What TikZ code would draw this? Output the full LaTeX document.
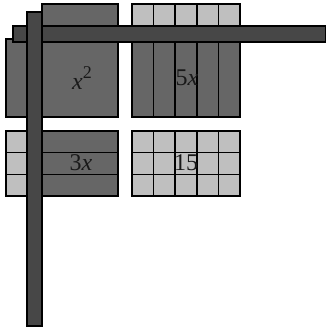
\documentclass[tikz,border=0pt]{standalone}
\usepackage{fontspec}
\setmainfont{Liberation Serif}
\begin{document}
\begin{tikzpicture}[x=1pt,y=-1pt,
  darktile/.style={draw=black,line width=1.6pt,fill=black!60},
  lighttile/.style={draw=black,line width=1.6pt,fill=black!25},
  barstyle/.style={draw=black,line width=1.6pt,fill=black!72},
  lbl/.style={font=\fontsize{24}{24}\selectfont,text=black!90,inner sep=0pt}]
\useasboundingbox (0,0) rectangle (325,330);
% top factor row
\draw[darktile] (42,4) rectangle (118,27);
\foreach \i in {0,...,4}{
  \draw[lighttile] ({132+21.6*\i},4) rectangle ({132+21.6*(\i+1)},27);
}
% left factor column
\draw[darktile] (6,39) rectangle (27,117);
\foreach \j in {0,1,2}{
  \draw[lighttile] (6,{131+21.67*\j}) rectangle (27,{131+21.67*(\j+1)});
}
% x^2 tile
\draw[darktile] (27,39) rectangle (118,117);
% 5x tiles
\foreach \i in {0,...,4}{
  \draw[darktile] ({132+21.6*\i},39) rectangle ({132+21.6*(\i+1)},117);
}
% 3x tiles
\foreach \j in {0,1,2}{
  \draw[darktile] (27,{131+21.67*\j}) rectangle (118,{131+21.67*(\j+1)});
}
% 15 units
\foreach \i in {0,...,4}{
  \foreach \j in {0,1,2}{
    \draw[lighttile] ({132+21.6*\i},{131+21.67*\j}) rectangle ({132+21.6*(\i+1)},{131+21.67*(\j+1)});
  }
}
% bars
\draw[barstyle] (13,26) rectangle (326,42);
\draw[barstyle] (27,12) rectangle (42,326);
% labels
\node[lbl] (xsq) at (82,78) {\textit{x}\raisebox{0.42em}{\fontsize{18}{18}\selectfont 2}};
\node[lbl] (fivex) at (187,78) {5\textit{x}};
\node[lbl] (threex) at (81,163) {3\textit{x}};
\node[lbl] (fifteen) at (186,163) {15};
\end{tikzpicture}
\end{document}
